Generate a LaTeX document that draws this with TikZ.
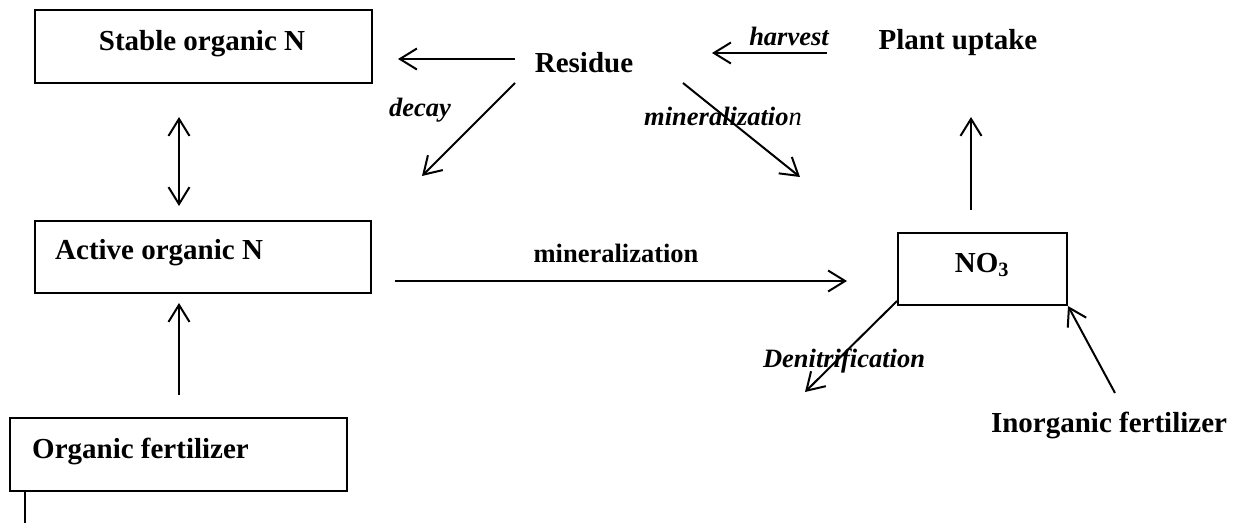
\documentclass[tikz,border=0pt]{standalone}
\usepackage{fontspec}
\setmainfont{Liberation Serif}
\usetikzlibrary{arrows.meta}
\begin{document}
\begin{tikzpicture}[x=1pt,y=-1pt,
  box/.style={draw,line width=2pt,inner sep=0pt},
  txt/.style={font=\fontsize{29}{34}\selectfont\bfseries,inner sep=0pt},
  mtxt/.style={font=\fontsize{26.5}{32}\selectfont\bfseries,inner sep=0pt},
  itxt/.style={font=\fontsize{26.5}{32}\selectfont\bfseries\itshape,inner sep=0pt},
  tip/.tip={Straight Barb[length=17pt,width=21pt,line width=2pt]},
  arr/.style={line width=2pt,-tip},
  arrthin/.style={line width=1.6pt,-tip}]
\useasboundingbox (0,0) rectangle (1239,523);
% boxes
\node[box,minimum width=337pt,minimum height=73pt] (stablebox) at (203.5,46.5) {};
\node[box,minimum width=336pt,minimum height=72pt] (activebox) at (203,257) {};
\node[box,minimum width=337pt,minimum height=73pt] (orgbox) at (178.5,454.5) {};
\node[box,minimum width=169pt,minimum height=72pt] (nobox) at (982.5,269) {};
% texts
\node[txt,anchor=base] (stable) at (202,50) {Stable organic N};
\node[txt,anchor=base west] (active) at (55,259) {Active organic N};
\node[txt,anchor=base west] (organic) at (32,458) {Organic fertilizer};
\node[txt,anchor=base] (no3) at (982,272) {NO\textsubscript{3}};
\node[txt,anchor=base] (residue) at (584,72) {Residue};
\node[txt,anchor=base] (plant) at (958,49) {Plant uptake};
\node[txt,anchor=base] (inorg) at (1109,432) {Inorganic fertilizer};
\node[mtxt,anchor=base] (minbold) at (616,262) {mineralization};
\node[itxt,anchor=base] (decay) at (420,116) {decay};
\node[itxt,anchor=base] (harvest) at (789,45) {harvest};
\node[itxt,anchor=base] (minital) at (723,125) {mineralizatio\mdseries n};
\node[itxt,anchor=base] (denit) at (844,367) {Denitrification};
% coordinates
\coordinate (dA) at (179,117);
\coordinate (dB) at (179,206);
\coordinate (oA) at (179,395);
\coordinate (oB) at (179,303);
\coordinate (rA) at (515,59);
\coordinate (rB) at (398,59);
\coordinate (decA) at (515,83);
\coordinate (decB) at (422,176);
\coordinate (mA) at (683,83);
\coordinate (mB) at (800,177);
\coordinate (hA) at (827,53);
\coordinate (hB) at (712,53);
\coordinate (pA) at (971,210);
\coordinate (pB) at (971,117);
\coordinate (hzA) at (395,281);
\coordinate (hzB) at (847,281);
\coordinate (deB) at (805,392);
\coordinate (inA) at (1115,393);
\coordinate (tickA) at (25,523);
% connectors
\draw[line width=1.6pt,tip-tip] (dA) -- (dB);
\draw[arrthin] (oA) -- (oB);
\draw[arr] (rA) -- (rB);
\draw[arr] (decA) -- (decB);
\draw[arr] (mA) -- (mB);
\draw[arr] (hA) -- (hB);
\draw[arrthin] (pA) -- (pB);
\draw[arr] (hzA) -- (hzB);
\draw[arr] ([yshift=5pt]nobox.south west) -- (deB);
\draw[arr] (inA) -- (nobox.south east);
\draw[line width=2pt] (tickA) -- (tickA |- orgbox.south);
\end{tikzpicture}
\end{document}
